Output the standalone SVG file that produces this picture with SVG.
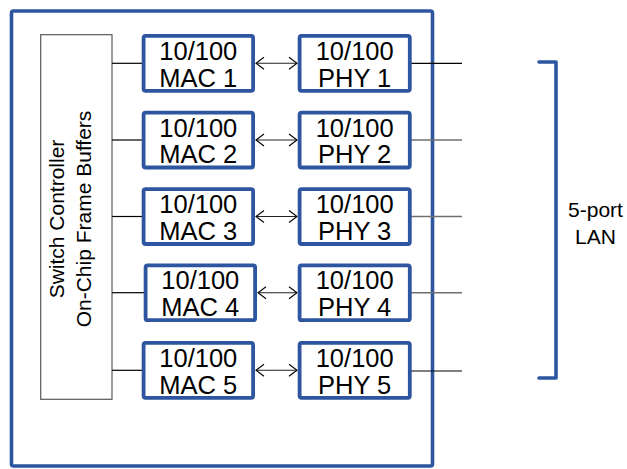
<svg xmlns="http://www.w3.org/2000/svg" width="627" height="469" viewBox="0 0 627 469">
<defs>
<marker id="ah" viewBox="0 0 10 14" refX="9" refY="7" markerWidth="10" markerHeight="14" markerUnits="userSpaceOnUse" orient="auto-start-reverse">
<path d="M1,1 L9,7 L1,13" fill="none" stroke="#000" stroke-width="1.1"/>
</marker>
<style>
.blk{fill:#fff;stroke:#2E55A0;stroke-width:3.8}
.t{font-family:"Liberation Sans",Arial,sans-serif;font-size:25.5px;fill:#000;text-anchor:middle}
.c{font-family:"Liberation Sans",Arial,sans-serif;font-size:21px;fill:#000;text-anchor:middle}
.ln{stroke:#000;stroke-width:1.2;fill:none}
.lg{stroke:#6f6f6f;stroke-width:1.4;fill:none}
.ar{stroke:#222;stroke-width:1.1;fill:none;marker-start:url(#ah);marker-end:url(#ah)}
</style>
</defs>
<rect id="frame" x="11.5" y="11" width="421" height="455" rx="2" fill="#fff" stroke="#2E55A0" stroke-width="3.6"/>
<g id="controller">
<rect x="40.7" y="34.7" width="71.3" height="364.6" fill="#fff" stroke="#595959" stroke-width="1.2"/>
<text class="c" transform="translate(64,219) rotate(-90)">Switch Controller</text>
<text class="c" transform="translate(91,219) rotate(-90)">On-Chip Frame Buffers</text>
</g>
<g id="connectors">
<line class="ln" x1="112" y1="63.3" x2="142" y2="63.3"/>
<line class="ln" x1="112" y1="140" x2="142" y2="140"/>
<line class="ln" x1="112" y1="216.5" x2="142" y2="216.5"/>
<line class="ln" x1="112" y1="292.7" x2="144" y2="292.7"/>
<line class="ln" x1="112" y1="370.3" x2="142" y2="370.3"/>
<line class="ar" x1="256" y1="63.3" x2="297" y2="63.3"/>
<line class="ar" x1="256" y1="140" x2="297" y2="140"/>
<line class="ar" x1="256" y1="216.5" x2="297" y2="216.5"/>
<line class="ar" x1="258" y1="292.7" x2="297" y2="292.7"/>
<line class="ar" x1="256" y1="370.3" x2="297" y2="370.3"/>
<line class="ln" x1="411" y1="63.3" x2="462" y2="63.3"/>
<line class="lg" x1="411" y1="140" x2="462" y2="140"/>
<line class="lg" x1="411" y1="216.5" x2="462" y2="216.5"/>
<line class="lg" x1="411" y1="292.7" x2="462" y2="292.7"/>
<line class="ln" x1="411" y1="371" x2="462" y2="371"/>
</g>
<g id="mac1"><rect class="blk" x="143.6" y="35.9" width="109.5" height="54.9" rx="2"/><text class="t" x="198.3" y="60">10/100</text><text class="t" x="198.3" y="86.7">MAC 1</text></g>
<g id="mac2"><rect class="blk" x="143.6" y="112.6" width="109.5" height="54.9" rx="2"/><text class="t" x="198.3" y="136.7">10/100</text><text class="t" x="198.3" y="163.4">MAC 2</text></g>
<g id="mac3"><rect class="blk" x="143.6" y="189.1" width="109.5" height="54.9" rx="2"/><text class="t" x="198.3" y="213.2">10/100</text><text class="t" x="198.3" y="239.9">MAC 3</text></g>
<g id="mac4"><rect class="blk" x="145.6" y="265.3" width="109.5" height="54.9" rx="2"/><text class="t" x="200.3" y="289.4">10/100</text><text class="t" x="200.3" y="316.1">MAC 4</text></g>
<g id="mac5"><rect class="blk" x="143.6" y="342.9" width="109.5" height="54.9" rx="2"/><text class="t" x="198.3" y="367">10/100</text><text class="t" x="198.3" y="393.7">MAC 5</text></g>
<g id="phy1"><rect class="blk" x="299.6" y="35.9" width="110.2" height="54.9" rx="2"/><text class="t" x="354.7" y="60">10/100</text><text class="t" x="354.7" y="86.7">PHY 1</text></g>
<g id="phy2"><rect class="blk" x="299.6" y="112.6" width="110.2" height="54.9" rx="2"/><text class="t" x="354.7" y="136.7">10/100</text><text class="t" x="354.7" y="163.4">PHY 2</text></g>
<g id="phy3"><rect class="blk" x="299.6" y="189.1" width="110.2" height="54.9" rx="2"/><text class="t" x="354.7" y="213.2">10/100</text><text class="t" x="354.7" y="239.9">PHY 3</text></g>
<g id="phy4"><rect class="blk" x="299.6" y="265.3" width="110.2" height="54.9" rx="2"/><text class="t" x="354.7" y="289.4">10/100</text><text class="t" x="354.7" y="316.1">PHY 4</text></g>
<g id="phy5"><rect class="blk" x="299.6" y="342.9" width="110.2" height="54.9" rx="2"/><text class="t" x="354.7" y="367">10/100</text><text class="t" x="354.7" y="393.7">PHY 5</text></g>
<g id="lan">
<path d="M539,62 H556 V378 H539" fill="none" stroke="#2E55A0" stroke-width="3.6" stroke-linecap="round" stroke-linejoin="round"/>
<text class="c" x="595.5" y="216.7">5-port</text>
<text class="c" x="595.5" y="244">LAN</text>
</g>
</svg>
